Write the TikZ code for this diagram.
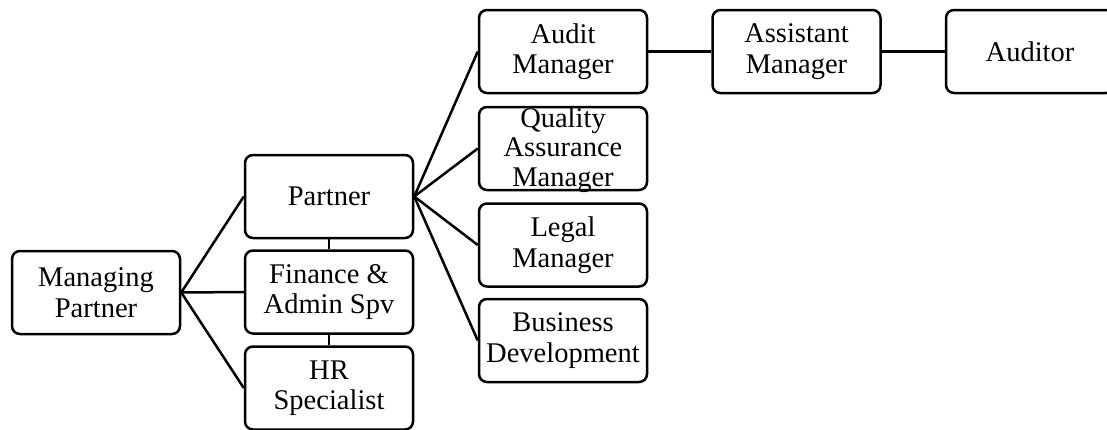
\documentclass[tikz,border=0pt]{standalone}
\usepackage{fontspec}
\setmainfont{Liberation Serif}
\begin{document}
\begin{tikzpicture}[x=1pt,y=-1pt,
  box/.style={draw,line width=2.5pt,rounded corners=8pt,minimum width=168pt,minimum height=83pt,inner sep=0pt,align=center,font=\fontsize{28.5}{30.5}\selectfont},
  lbl/.style={inner sep=0pt,align=center,font=\fontsize{28.5}{29.5}\selectfont},
  conn/.style={line width=2.5pt}]
\useasboundingbox (0,0) rectangle (1107,429);
\clip (0,0) rectangle (1107,429);
\node[box] (mp) at (96,292.5) {Managing\\Partner};
\node[box] (partner) at (329,196.5) {Partner};
\node[box] (fin) at (329,292) {Finance \&\\Admin Spv};
\node[box] (hr) at (329,388) {HR\\Specialist};
\node[box] (audit) at (563,51.5) {Audit\\Manager};
\node[box] (qa) at (563,148.5) {};
\node[lbl] (qalbl) at (563,150) {Quality\\Assurance\\Manager};
\node[box] (legal) at (563,245) {Legal\\Manager};
\node[box] (bd) at (563,340.5) {Business\\Development};
\node[box] (asst) at (796.5,51.5) {Assistant\\Manager};
\node[box] (auditor) at (1030,51.5) {Auditor};
\draw[conn] (mp.east) -- (partner.west);
\draw[conn] (mp.east) -- (fin.west);
\draw[conn] (mp.east) -- (hr.west);
\draw[conn] (partner.east) -- (audit.west);
\draw[conn] (partner.east) -- (qa.west);
\draw[conn] (partner.east) -- (legal.west);
\draw[conn] (partner.east) -- (bd.west);
\draw[conn] (audit.east) -- (asst.west);
\draw[conn] (asst.east) -- (auditor.west);
\draw[conn] (partner.south) -- (fin.north);
\draw[conn] (fin.south) -- (hr.north);
\end{tikzpicture}
\end{document}
